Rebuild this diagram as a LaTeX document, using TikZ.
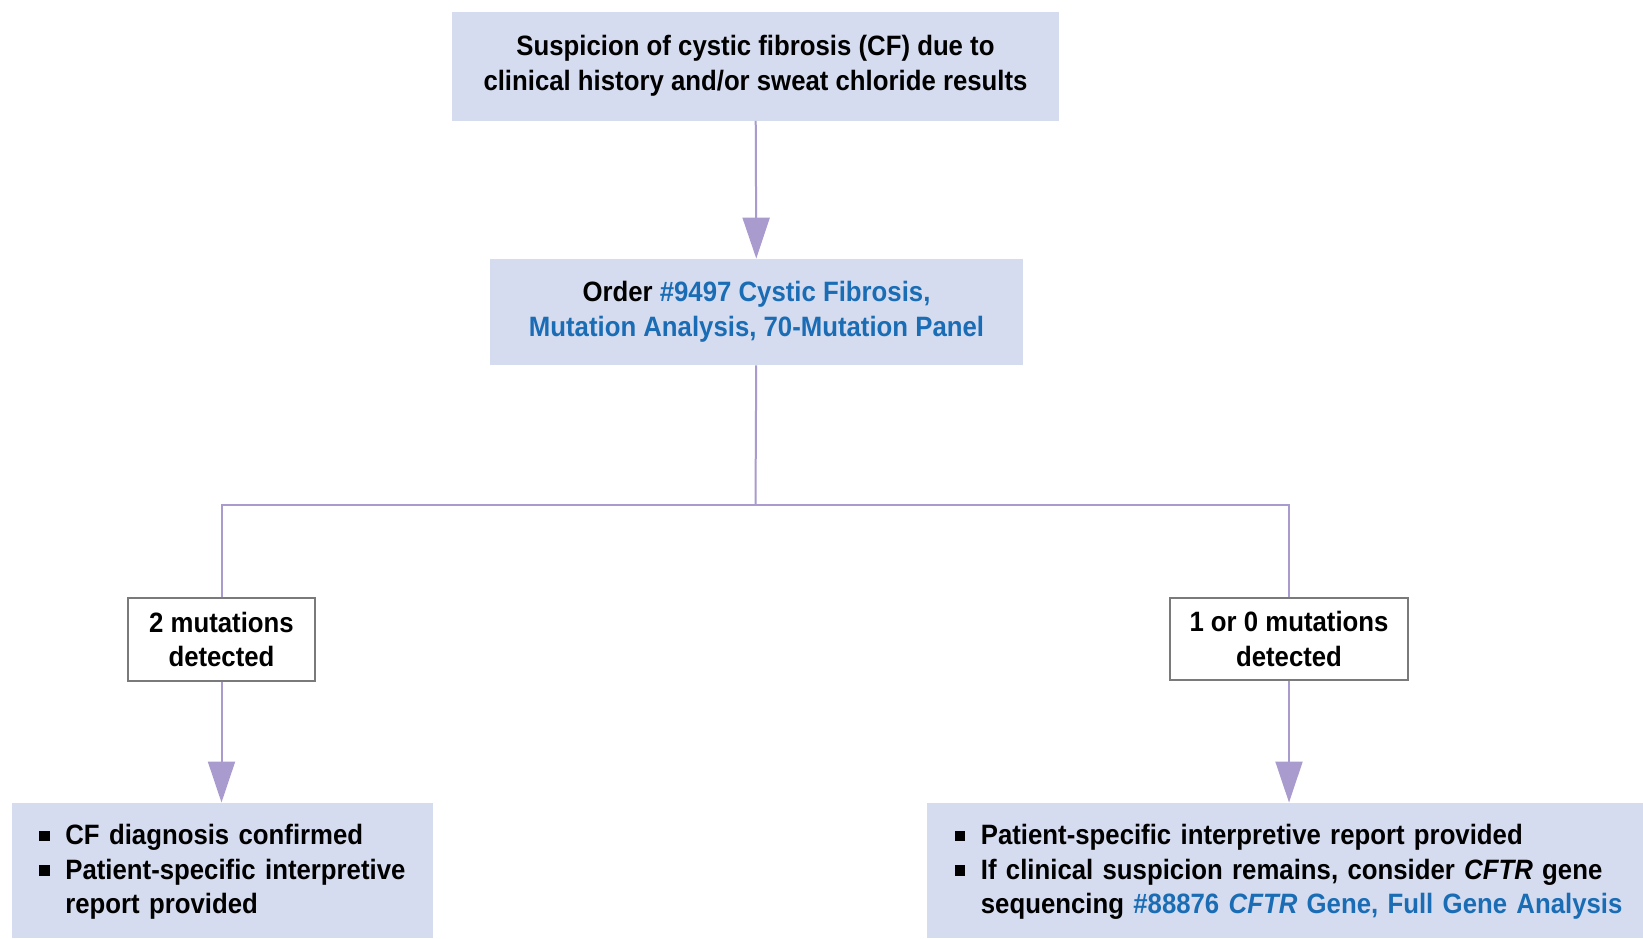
\documentclass[tikz,border=0pt]{standalone}
\usepackage{fontspec}
\setmainfont{Liberation Sans}[FakeStretch=0.92]
\usepackage{tikz}
\usetikzlibrary{arrows.meta}

\definecolor{boxfill}{HTML}{D6DCEF}
\definecolor{linkline}{HTML}{A99BCD}
\definecolor{ordblue}{HTML}{1A6DB4}
\definecolor{framegray}{HTML}{7A7A7A}

\newcommand{\sqitem}[1]{\par\noindent\hspace*{13.75pt}\makebox[13pt][l]{\raisebox{1.8pt}{\rule{5.2pt}{5.2pt}}}%
  \parbox[t]{\dimexpr\hsize-28.75pt\relax}{\raggedright #1}}

\tikzset{
  shaded/.style = {fill = boxfill, inner sep = 0pt, align = center},
  result/.style = {draw = framegray, line width = 0.7pt, fill = white, inner sep = 0pt, align = center},
  listbox/.style = {fill = boxfill, inner sep = 0pt, align = left, anchor = north west},
  link/.style = {draw = linkline, line width = 1pt},
  tip/.style = {-{Triangle[width = 13.5pt, length = 20.5pt]}}
}

\begin{document}
\begin{tikzpicture}[x = 0.5pt, y = -0.5pt, font = \bfseries\fontsize{14}{17.3}\selectfont]
\useasboundingbox (0,0) rectangle (1643,938);

\node[shaded, minimum width = 303.5pt, minimum height = 54.5pt] (suspicion) at (755.5,66)
  {Suspicion of cystic fibrosis (CF) due to\\clinical history and/or sweat chloride results};
\node[shaded, minimum width = 266.5pt, minimum height = 53pt] (order) at (756.5,312)
  {Order \textcolor{ordblue}{\#9497 Cystic Fibrosis,}\\\textcolor{ordblue}{Mutation Analysis, 70-Mutation Panel}};
\coordinate (split) at (755.5,505);
\node[result, minimum width = 93.5pt, minimum height = 41.5pt] (two) at (221.5,639.5) {2 mutations\\detected};
\node[result, minimum width = 119pt, minimum height = 41pt] (few) at (1289,639) {1 or 0 mutations\\detected};

\node[listbox, minimum width = 210.75pt, minimum height = 67.75pt, text width = 210.75pt] (confirmed) at (11.5,802.5)
  {\vspace*{-5.8pt}
   \sqitem{CF diagnosis confirmed}
   \sqitem{Patient-specific interpretive report provided}};
\node[listbox, minimum width = 358pt, minimum height = 67.75pt, text width = 358pt] (sequence) at (927,802.5)
  {\vspace*{-5.8pt}
   \sqitem{Patient-specific interpretive report provided}
   \sqitem{If clinical suspicion remains, consider \textit{CFTR} gene sequencing \textcolor{ordblue}{\#88876 \textit{CFTR} Gene, Full Gene Analysis}}};

\draw[link, tip] (suspicion) -- (order);
\draw[link] (order) -- (split);
\draw[link] (two.north) |- (split) -| (few.north);
\draw[link, tip] (two) -- (two |- confirmed.north);
\draw[link, tip] (few) -- (few |- sequence.north);
\end{tikzpicture}
\end{document}
